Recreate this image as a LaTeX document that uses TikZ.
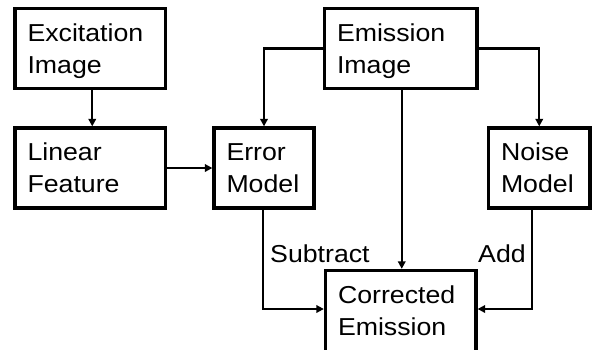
\documentclass[tikz,border=0pt]{standalone}
\usepackage{fontspec}
\setmainfont{Liberation Sans}[FakeStretch=1.09]
\usetikzlibrary{arrows.meta}

% two-line label: fixed ascent and descent so every box centres alike;
% the optional argument adds room below the text
\newcommand\boxlabel[3][0pt]{\raisebox{0pt}[17.5pt][\dimexpr32pt+#1\relax]{\parbox[t]{#2}{\raggedright #3}}}

\begin{document}
\begin{tikzpicture}[x=1pt,y=-1pt,
  font=\fontsize{24.5}{32}\selectfont,
  block/.style={draw, line width=3.3pt, inner sep=0pt, minimum height=80pt},
  flow/.style={line width=2.2pt, -{Triangle[length=7.5pt,width=7.5pt]}}]
\useasboundingbox (0,0) rectangle (603,349);

\node[block, minimum width=150.5pt] (exc) at (90.25,48.5)  {\boxlabel{125.5pt}{Excitation\\Image}};
\node[block, minimum width=150.5pt] (lin) at (90.25,168)   {\boxlabel{125.5pt}{Linear\\Feature}};
\node[block, minimum width=100pt]   (err) at (264,168)     {\boxlabel{75pt}{Error\\Model}};
\node[block, minimum width=152.5pt] (emi) at (400.75,48.5) {\boxlabel{127.5pt}{Emission\\Image}};
\node[block, minimum width=101.5pt] (noi) at (539.25,168)  {\boxlabel{76.5pt}{Noise\\Model}};
% runs past the lower edge of the page
\node[block, minimum width=150.5pt, minimum height=100pt] (cor) at (400.75,320.5)
  {\boxlabel[20pt]{125.5pt}{Corrected\\Emission}};

\node[anchor=base west, inner sep=0pt] (sub) at (270,262) {Subtract};
\node[anchor=base west, inner sep=0pt] (add) at (478,262) {Add};

\draw[flow] ([xshift=2pt]exc.south) -- ([xshift=2pt]lin.north);
\draw[flow] (lin.east) -- (err.west);
\draw[flow] (emi.west) -| (err.north);
\draw[flow] (emi.east) -| (noi.north);
\draw[flow] ([xshift=1pt]emi.south) -- ([xshift=1pt]cor.north);
\draw[flow] ([xshift=-1pt]err.south) |- ([yshift=11.5pt]cor.west);
\draw[flow] ([xshift=-7pt]noi.south) |- ([yshift=11.5pt]cor.east);
\end{tikzpicture}
\end{document}
